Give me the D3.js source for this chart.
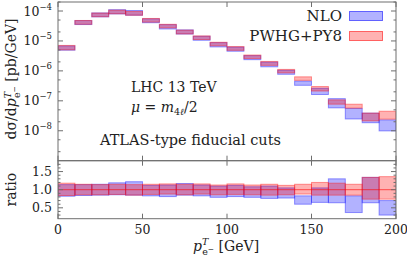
<!DOCTYPE html>
<html>
<head>
<meta charset="utf-8">
<script src="https://cdn.jsdelivr.net/npm/d3@7"></script>
<style>
html,body{margin:0;padding:0;background:#fff;}
svg{display:block;}
text{font-family:"DejaVu Serif",serif;fill:#222;}
</style>
</head>
<body>
<svg id="c" width="407" height="259"></svg>
<script>
// bin edges [GeV]
const binLo = [0,10,20,30,40,50,60,70,80,90,100,110,120,130,140,150,160,170,180,190];
const binHi = [10,20,30,40,50,60,70,80,90,100,110,120,130,140,150,160,170,180,190,200];
// PWHG+PY8 central value [pb/GeV]
const pwCentral = [6.0e-6,4.2e-5,7.5e-5,9.3e-5,8.5e-5,4.9e-5,3.1e-5,2.0e-5,1.27e-5,8.0e-6,5.6e-6,3.0e-6,1.8e-6,1.0e-6,5.5e-7,2.5e-7,9.1e-8,6.7e-8,2.9e-8,3.3e-8];
// bands as ratio to PWHG+PY8 central
const pwLo  = [0.84,0.86,0.86,0.87,0.85,0.87,0.88,0.86,0.88,0.86,0.87,0.86,0.85,0.86,0.88,0.85,0.85,0.85,0.74,0.74];
const pwHi  = [1.18,1.15,1.14,1.15,1.14,1.15,1.16,1.15,1.16,1.13,1.16,1.13,1.15,1.12,1.15,1.20,1.18,1.15,1.34,1.36];
const nloLo = [0.82,0.84,0.85,0.86,0.85,0.83,0.81,0.85,0.83,0.79,0.81,0.79,0.76,0.77,0.60,0.65,0.64,0.37,0.64,0.30];
const nloHi = [1.14,1.14,1.15,1.19,1.22,1.12,1.13,1.17,1.13,1.10,1.12,1.08,1.10,1.05,0.83,1.05,1.30,0.83,1.34,0.70];
// ticks
const xTicks = [0,50,100,150,200];
const yMainTicks = [1e-8,1e-7,1e-6,1e-5,1e-4];
const yRatioTicks = [0.5,1.0,1.5];

const svg = d3.select("#c");
const L = 58, R = 396, T = 2, M = 160.7, B = 218.7;
const x = d3.scaleLinear().domain([0,200]).range([L,R]);
const y = d3.scaleLog().domain([1e-9,2e-4]).range([M,T]);
const yr = d3.scaleLinear().domain([0.2,1.8]).range([B,M]);

const series = [
  {name:"NLO", lo:nloLo, hi:nloHi, fill:"#0000ff", stroke:"#2020ff"},
  {name:"PWHG+PY8", lo:pwLo, hi:pwHi, fill:"#ff0000", stroke:"#ff2020"}
];
const fillOp = 0.3, strokeOp = 0.45;

const defs = svg.append("defs");
defs.append("clipPath").attr("id","cm").append("rect").attr("x",L).attr("y",T).attr("width",R-L).attr("height",M-T);
defs.append("clipPath").attr("id","cr").append("rect").attr("x",L).attr("y",M).attr("width",R-L).attr("height",B-M);

const gMain = svg.append("g").attr("clip-path","url(#cm)");
const gRat = svg.append("g").attr("clip-path","url(#cr)");
const idx = d3.range(binLo.length);

series.forEach(s=>{
  gMain.selectAll(null).data(idx).join("rect")
    .attr("x",i=>x(binLo[i])).attr("width",i=>x(binHi[i])-x(binLo[i]))
    .attr("y",i=>y(pwCentral[i]*s.hi[i])).attr("height",i=>y(pwCentral[i]*s.lo[i])-y(pwCentral[i]*s.hi[i]))
    .attr("fill",s.fill).attr("fill-opacity",fillOp)
    .attr("stroke",s.stroke).attr("stroke-opacity",strokeOp).attr("stroke-width",1);
  gRat.selectAll(null).data(idx).join("rect")
    .attr("x",i=>x(binLo[i])).attr("width",i=>x(binHi[i])-x(binLo[i]))
    .attr("y",i=>yr(s.hi[i])).attr("height",i=>yr(s.lo[i])-yr(s.hi[i]))
    .attr("fill",s.fill).attr("fill-opacity",fillOp)
    .attr("stroke",s.stroke).attr("stroke-opacity",strokeOp).attr("stroke-width",1);
});
gRat.selectAll(null).data(idx).join("line")
  .attr("x1",i=>x(binLo[i])).attr("x2",i=>x(binHi[i]))
  .attr("y1",yr(1)).attr("y2",yr(1))
  .attr("stroke","#ff0000").attr("stroke-opacity",0.6).attr("stroke-width",1);

const frameCol = "#6e6e6e";
svg.append("rect").attr("x",L).attr("y",T).attr("width",R-L).attr("height",M-T).attr("fill","none").attr("stroke",frameCol).attr("stroke-width",1);
svg.append("rect").attr("x",L).attr("y",M).attr("width",R-L).attr("height",B-M).attr("fill","none").attr("stroke",frameCol).attr("stroke-width",1);

const majLen = 5, minLen = 2.5;
const yMinor = [];
for (let e=-9;e<=-4;e++){ [2,5].forEach(m=>{const v=m*Math.pow(10,e); if(v<=2e-4 && v>=1e-9) yMinor.push(v);}); }
const tg = svg.append("g").attr("stroke",frameCol).attr("stroke-width",1);
yMainTicks.forEach(v=>{
  tg.append("line").attr("x1",L).attr("x2",L+majLen).attr("y1",y(v)).attr("y2",y(v));
  tg.append("line").attr("x1",R).attr("x2",R-majLen).attr("y1",y(v)).attr("y2",y(v));
});
yMinor.forEach(v=>{
  tg.append("line").attr("x1",L).attr("x2",L+minLen).attr("y1",y(v)).attr("y2",y(v));
  tg.append("line").attr("x1",R).attr("x2",R-minLen).attr("y1",y(v)).attr("y2",y(v));
});
d3.range(3,18).map(k=>k/10).forEach(v=>{
  const major = yRatioTicks.some(t=>Math.abs(t-v)<1e-9);
  const len = major?majLen:minLen;
  tg.append("line").attr("x1",L).attr("x2",L+len).attr("y1",yr(v)).attr("y2",yr(v));
  tg.append("line").attr("x1",R).attr("x2",R-len).attr("y1",yr(v)).attr("y2",yr(v));
});
xTicks.forEach(v=>{
  [[B,-1],[M,1],[M,-1],[T,1]].forEach(([yy,d])=>{
    tg.append("line").attr("x1",x(v)).attr("x2",x(v)).attr("y1",yy).attr("y2",yy+d*majLen);
  });
});

yMainTicks.forEach(v=>{
  const e = Math.round(Math.log10(v));
  const t = svg.append("text").attr("x",L-6).attr("y",y(v)+4.5).attr("text-anchor","end").attr("font-size",12.5);
  t.append("tspan").text("10");
  t.append("tspan").attr("font-size",8.5).attr("dy",-6).text("−"+(-e));
});
yRatioTicks.forEach(v=>{
  svg.append("text").attr("x",L-6).attr("y",yr(v)+4.5).attr("text-anchor","end").attr("font-size",12.5).text(v.toFixed(1));
});
xTicks.forEach(v=>{
  svg.append("text").attr("x",x(v)).attr("y",234).attr("text-anchor","middle").attr("font-size",12.5).text(v);
});

{
  const t = svg.append("text").attr("x",226).attr("y",251).attr("text-anchor","middle").attr("font-size",14);
  t.append("tspan").attr("font-style","italic").text("p");
  t.append("tspan").attr("font-size",9.5).attr("font-style","italic").attr("dy",-6).text("T");
  t.append("tspan").attr("font-size",9.5).attr("dx",-6).attr("dy",10).text("e");
  t.append("tspan").attr("font-size",7.5).attr("dy",-3).text("−");
  t.append("tspan").attr("dy",-1).text(" [GeV]");
}
{
  const t = svg.append("text").attr("transform","translate(15.5,79) rotate(-90)").attr("text-anchor","middle").attr("font-size",14);
  t.append("tspan").text("dσ/d");
  t.append("tspan").attr("font-style","italic").text("p");
  t.append("tspan").attr("font-size",9.5).attr("font-style","italic").attr("dy",-5).text("T");
  t.append("tspan").attr("font-size",9.5).attr("dx",-6).attr("dy",9).text("e");
  t.append("tspan").attr("font-size",7.5).attr("dy",-3).text("−");
  t.append("tspan").attr("dy",-1).text(" [pb/GeV]");
}
svg.append("text").attr("transform","translate(15.5,189.7) rotate(-90)").attr("text-anchor","middle").attr("font-size",14).text("ratio");

svg.append("text").attr("x",131).attr("y",92).attr("font-size",14).text("LHC 13 TeV");
{
  const t = svg.append("text").attr("x",131).attr("y",112).attr("font-size",14);
  t.append("tspan").attr("font-style","italic").text("μ");
  t.append("tspan").text(" = ");
  t.append("tspan").attr("font-style","italic").text("m");
  t.append("tspan").attr("font-size",9.5).attr("dy",3).text("4");
  t.append("tspan").attr("font-size",9.5).attr("font-style","italic").text("ℓ");
  t.append("tspan").attr("dy",-3).text("/2");
}
svg.append("text").attr("x",100).attr("y",145).attr("font-size",14.5).text("ATLAS-type fiducial cuts");

series.forEach((s,k)=>{
  const yy = 16 + k*20;
  svg.append("text").attr("x",342).attr("y",yy+5).attr("text-anchor","end").attr("font-size",15).text(s.name);
  svg.append("rect").attr("x",349.5).attr("y",yy-4.5).attr("width",33).attr("height",9)
    .attr("fill",s.fill).attr("fill-opacity",fillOp).attr("stroke",s.stroke).attr("stroke-opacity",strokeOp+0.2);
});
</script>
</body>
</html>
